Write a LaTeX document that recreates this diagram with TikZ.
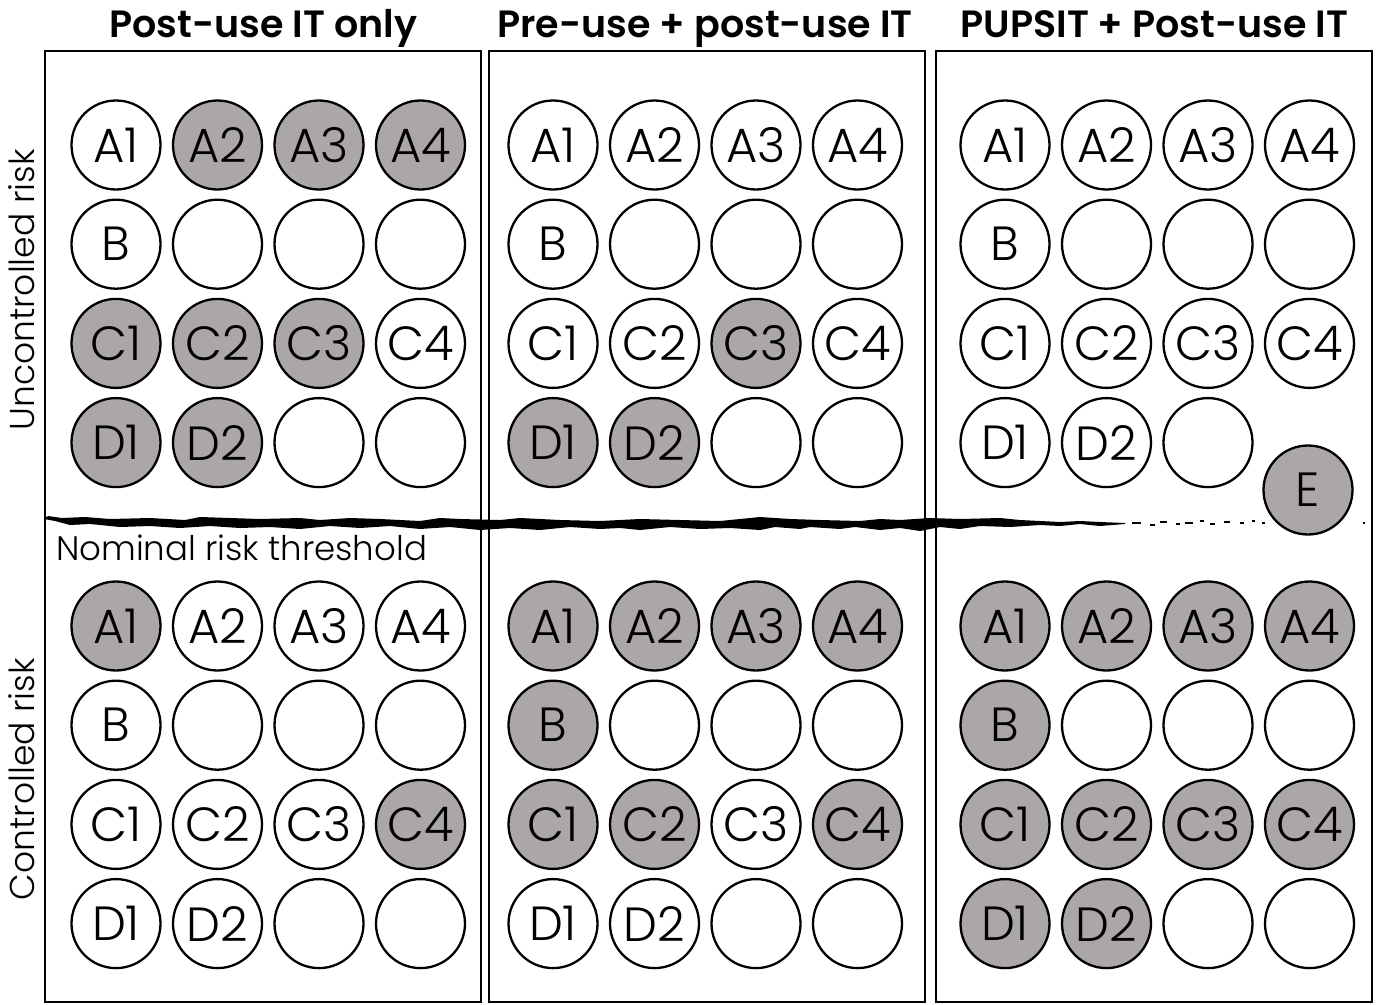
\documentclass[tikz,border=0pt]{standalone}
\usepackage{fontspec}
\setmainfont{Poppins}[UprightFont=* Light, BoldFont=* SemiBold]
\definecolor{wellgray}{RGB}{172,167,167}

\begin{document}
\begin{tikzpicture}[
    x=1pt, y=-1pt,
    well/.style={draw, circle, line width=2.3pt, minimum size=89pt, inner sep=0pt,
                 font=\fontsize{48}{48}\selectfont},
    full/.style={well, fill=wellgray},
    empty/.style={well, fill=white},
    panel/.style={draw, line width=2.3pt, minimum width=436pt, minimum height=951pt},
    title/.style={font=\fontsize{38}{38}\selectfont\bfseries, anchor=base},
    side/.style={font=\fontsize{34.5}{34.5}\selectfont, rotate=90},
]
\useasboundingbox (0,0) rectangle (1378,1004);

% panels and titles
\node[panel] (p1box) at (263,526.5) {};
\node[panel] (p2box) at (707,526.5) {};
\node[panel] (p3box) at (1154,526.5) {};
\node[title] (p1title) at (263.5,37) {Post-use IT only};
\node[title] (p2title) at (705,37) {Pre-use + post-use IT};
\node[title] (p3title) at (1154.5,37) {PUPSIT + Post-use IT};

% side labels
\node[side] (uncontrolled) at (22,290) {Uncontrolled risk};
\node[side] (controlled) at (22,779) {Controlled risk};

% wells: 0 = empty, 1 = filled, 2 = no well
\foreach \pn/\px/\ufill/\cfill in {
    p1/116/{0,1,1,1, 0,0,0,0, 1,1,1,0, 1,1,0,0}/{1,0,0,0, 0,0,0,0, 0,0,0,1, 0,0,0,0},
    p2/553/{0,0,0,0, 0,0,0,0, 0,0,1,0, 1,1,0,0}/{1,1,1,1, 1,0,0,0, 1,1,0,1, 0,0,0,0},
    p3/1005/{0,0,0,0, 0,0,0,0, 0,0,0,0, 0,0,0,2}/{1,1,1,1, 1,0,0,0, 1,1,1,1, 1,1,0,0}}
{
  \foreach \half/\yo/\fills in {u/145/\ufill, c/626/\cfill}
  {
    \foreach \row [count=\r from 0] in {{A1,A2,A3,A4},{B,{},{},{}},{C1,C2,C3,C4},{D1,D2,{},{}}}
    {
      \foreach \lab [count=\c from 0] in \row
      {
        \pgfmathtruncatemacro\k{4*\r+\c}
        \edef\getfill{\noexpand\pgfmathtruncatemacro\noexpand\f{{\fills}[\k]}}
        \getfill
        \ifnum\f<2
          \ifnum\f=1 \def\wst{full}\else \def\wst{empty}\fi
          \node[\wst] (\pn\half\r\c) at ({\px+101.5*\c},{\yo+99.2*\r}) {\lab};
        \fi
      }
    }
  }
}
\node[full] (p3E) at (1308,490) {E};

% threshold brush stroke
\fill[black] (48,516) -- (62,518) -- (85,517) -- (110,519) -- (150,518) -- (185,520)
  -- (200,517) -- (260,519) -- (300,518) -- (320,520) -- (350,518) -- (380,519)
  -- (420,521) -- (440,518) -- (460,519) -- (500,520) -- (520,518) -- (560,520)
  -- (600,521) -- (640,519) -- (680,520) -- (720,521) -- (740,519) -- (760,517)
  -- (790,519) -- (820,520) -- (860,521) -- (880,519) -- (900,520) -- (930,518)
  -- (960,519) -- (1000,518) -- (1020,520) -- (1040,521) -- (1060,522) -- (1080,521)
  -- (1100,522) -- (1125,523)
  -- (1125,524) -- (1100,526) -- (1080,524) -- (1060,526) -- (1040,525) -- (1010,527)
  -- (980,526) -- (960,529) -- (940,527) -- (920,531) -- (900,528) -- (880,530)
  -- (855,527) -- (840,529) -- (810,527) -- (800,529) -- (775,527) -- (760,530)
  -- (730,528) -- (700,529) -- (670,527) -- (640,530) -- (620,528) -- (600,529)
  -- (570,527) -- (540,530) -- (510,528) -- (480,530) -- (450,527) -- (420,529)
  -- (390,526) -- (360,528) -- (330,526) -- (300,529) -- (270,527) -- (240,528)
  -- (210,526) -- (180,528) -- (150,526) -- (120,527) -- (90,524) -- (70,525)
  -- (55,521) -- (44,519) -- cycle;
\foreach \sx/\sy/\sw in {1132/522/9, 1150/524/5, 1160/521/7, 1176/523/4, 1185/522/8,
                         1200/520/4, 1210/523/5, 1224/521/6, 1240/522/4, 1252/520/3,
                         1262/522/3, 1363/522/2}
  \fill[black] (\sx,\sy) rectangle ++(\sw,2);
\node[anchor=base west, font=\fontsize{34}{34}\selectfont, inner sep=0pt]
  (threshold) at (56,560) {Nominal risk threshold};

\end{tikzpicture}
\end{document}
